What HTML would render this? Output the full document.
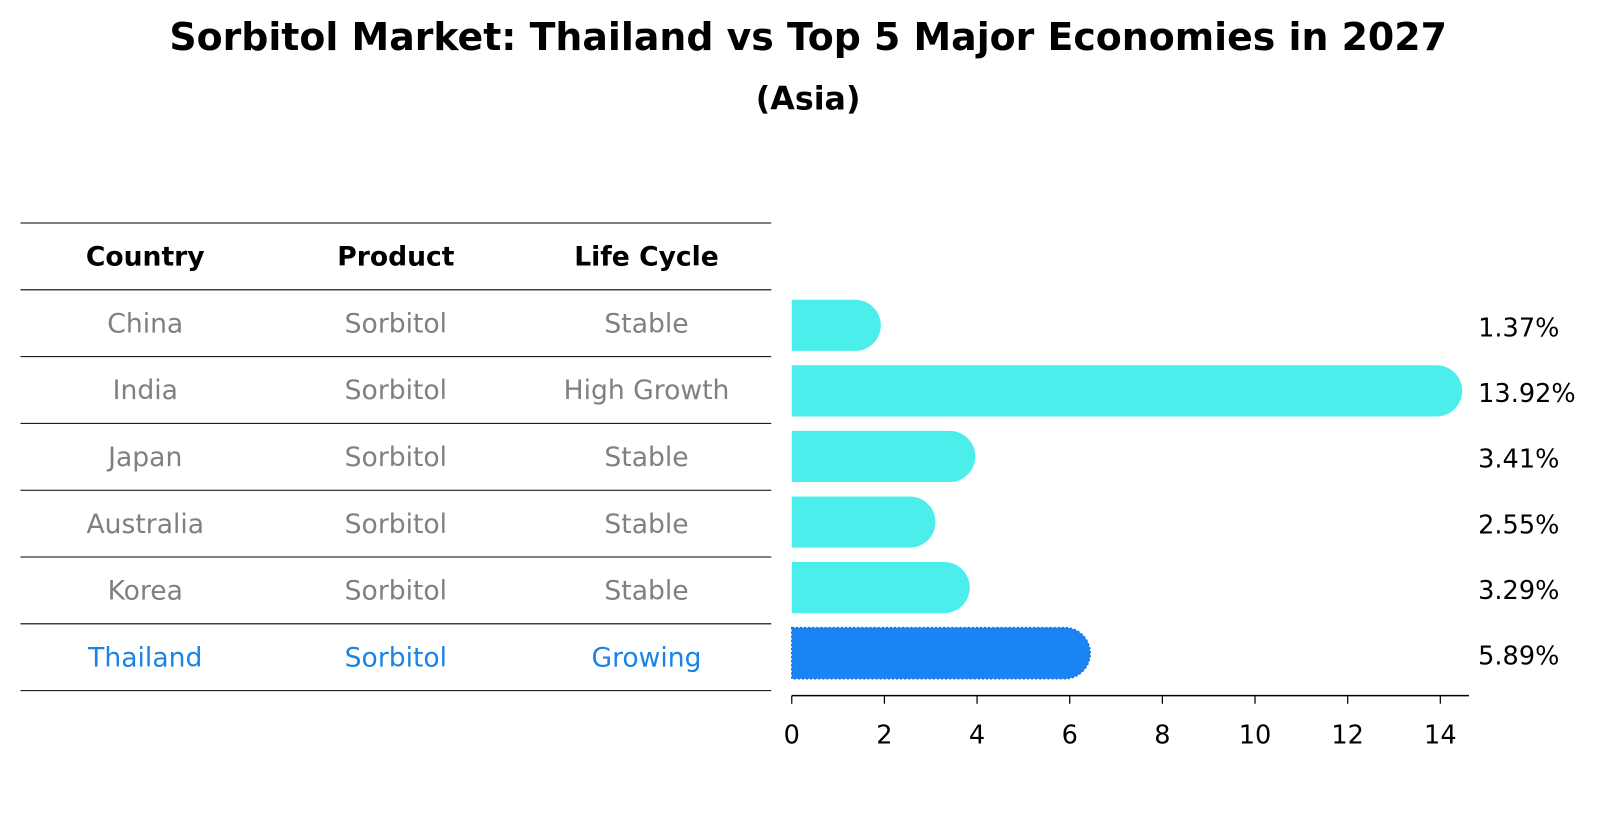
<!DOCTYPE html>
<html><head><meta charset="utf-8"><style>
body{margin:0;background:#fff;font-family:"DejaVu Sans","Liberation Sans",sans-serif;}
svg{display:block;}
svg text{font-family:"DejaVu Sans","Liberation Sans",sans-serif;}
</style></head><body>
<svg id="chart" width="1604" height="823" viewBox="0 0 1568 804.5" preserveAspectRatio="none" xmlns="http://www.w3.org/2000/svg">
<text x="790" y="49" text-anchor="middle" font-size="37" font-weight="bold">Sorbitol Market: Thailand vs Top 5 Major Economies in 2027</text>
<text x="790" y="107" text-anchor="middle" font-size="31" font-weight="bold">(Asia)</text>
<g id="table"></g>
<g id="bars"></g>
<g id="xaxis"></g>
</svg>
<script>
const countries=["China","India","Japan","Australia","Korea","Thailand"];
const products=["Sorbitol","Sorbitol","Sorbitol","Sorbitol","Sorbitol","Sorbitol"];
const lifeCycles=["Stable","High Growth","Stable","Stable","Stable","Growing"];
const values=[1.37,13.92,3.41,2.55,3.29,5.89];
const xTicks=[0,2,4,6,8,10,12,14];
const NS="http://www.w3.org/2000/svg";
function mk(tag,attrs,parent){const e=document.createElementNS(NS,tag);for(const k in attrs)e.setAttribute(k,attrs[k]);parent.appendChild(e);return e;}
const x0=774,pxPerUnit=(1408-774)/14;
function xs(v){return x0+v*pxPerUnit;}
const rowTop=218,rowH=65.3;
function rowCenter(i){return rowTop+rowH*(i+1)+rowH/2;}
const table=document.getElementById('table');
const colX=[142,387,632];
for(let i=0;i<=countries.length+1;i++){
  const y=rowTop+rowH*i;
  const l=mk('line',{x1:20,x2:754,y1:y,y2:y,stroke:'#000','stroke-width':1},table);
  
  
}
["Country","Product","Life Cycle"].forEach((h,j)=>{
  const t=mk('text',{x:colX[j],y:rowTop+rowH/2+9,'text-anchor':'middle','font-size':26,'font-weight':'bold'},table);
  t.textContent=h;
  
  
});
countries.forEach((c,i)=>{
  const col=i===countries.length-1?'#1a84e6':'#808080';
  [c,products[i],lifeCycles[i]].forEach((v,j)=>{
    const t=mk('text',{x:colX[j],y:rowCenter(i)+9,'text-anchor':'middle','font-size':26,fill:col},table);
    t.textContent=v;
    
    
  });
});
const bars=document.getElementById('bars');
const barH=50,r=25;
values.forEach((v,i)=>{
  const cy=318+i*64.1;
  const top=cy-barH/2;
  const xe=xs(v);
  const thai=i===values.length-1;
  const p=mk('path',{d:`M${x0},${top} H${xe} A${r},${r} 0 0 1 ${xe},${top+barH} H${x0} Z`,fill:thai?'#1a84f5':'#4beeea',stroke:thai?'#1a6fe0':'none','stroke-width':thai?1.5:0,'stroke-dasharray':thai?'2,2':'none'},bars);
  
  
  const t=mk('text',{x:1445,y:cy+11,'font-size':25},bars);
  t.textContent=v.toFixed(2)+'%';
  
  
});
const xa=document.getElementById('xaxis');
const al=mk('line',{x1:x0,x2:1436,y1:680,y2:680,stroke:'#000','stroke-width':1.5},xa);


xTicks.forEach(t=>{
  const tl=mk('line',{x1:xs(t),x2:xs(t),y1:680,y2:688,stroke:'#000','stroke-width':1.2},xa);
  
  
  const tx=mk('text',{x:xs(t),y:727,'text-anchor':'middle','font-size':25},xa);
  tx.textContent=t;
  
  
});
</script>
</body></html>
